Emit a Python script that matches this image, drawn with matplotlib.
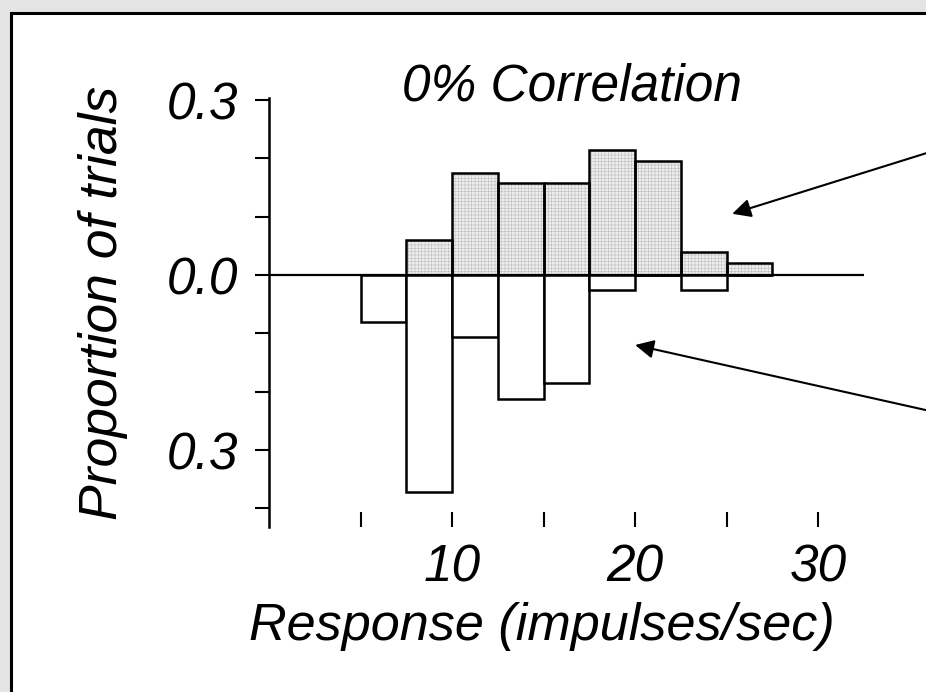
import matplotlib.pyplot as plt
from matplotlib.lines import Line2D

# histogram bins (impulses/sec), bin width 2.5
bin_left = [5, 7.5, 10, 12.5, 15, 17.5, 20, 22.5, 25]
bin_width = 2.5
# upper (shaded) and lower (open) histograms, proportion of trials
prop_upper = [0.0, 0.06, 0.175, 0.157, 0.157, 0.214, 0.195, 0.04, 0.02]
prop_lower = [0.081, 0.372, 0.106, 0.213, 0.185, 0.026, 0.0, 0.026, 0.0]

x_ticks = [5, 10, 15, 20, 25, 30]
x_ticklabels = ['', '10', '', '20', '', '30']
y_ticks = [-0.4, -0.3, -0.2, -0.1, 0.0, 0.1, 0.2, 0.3]
y_ticklabels = ['', '0.3', '', '', '0.0', '', '', '0.3']

FONT = 'Liberation Sans'
FS = 37

plt.rcParams['font.family'] = FONT
plt.rcParams['hatch.linewidth'] = 0.4

fig = plt.figure(figsize=(9.26, 6.92), dpi=100, facecolor='#e4e4e4')

# white frame, only its left and top borders are inside the picture
fx0, fy1 = 11 / 926, (692 - 13) / 692
fig.patches.append(plt.Rectangle((fx0, -0.05), 1.1, fy1 + 0.05, transform=fig.transFigure,
                                 facecolor='white', edgecolor='none', zorder=-5))
fig.add_artist(Line2D([fx0, fx0, 1.05], [-0.05, fy1, fy1], transform=fig.transFigure,
                      color='black', linewidth=2.2, solid_joinstyle='miter', zorder=-4))

ax = fig.add_axes([269 / 926, (692 - 527) / 692, 595 / 926, 428.7 / 692])
ax.set_zorder(5)
ax.patch.set_alpha(0)

# shaded upper histogram: stipple fill then black outline
ax.bar(bin_left, prop_upper, width=bin_width, align='edge',
       facecolor='#ededed', edgecolor='#bdbdbd', hatch='+++++', linewidth=0, zorder=2)
ax.bar(bin_left, prop_upper, width=bin_width, align='edge',
       facecolor='none', edgecolor='black', linewidth=1.8, zorder=3)
# open lower histogram
neg = [-v for v in prop_lower]
ax.bar(bin_left, neg, width=bin_width, align='edge',
       facecolor='white', edgecolor='black', linewidth=1.8, zorder=3)

ax.axhline(0, color='black', linewidth=1.6, zorder=4)

ax.set_xlim(0, 32.5)
ax.set_ylim(-0.432, 0.303)

for s in ['top', 'right', 'bottom']:
    ax.spines[s].set_visible(False)
ax.spines['left'].set_linewidth(1.8)

ax.set_xticks(x_ticks)
ax.set_xticklabels(x_ticklabels, fontsize=FS, style='italic')
ax.set_yticks(y_ticks)
ax.set_yticklabels(y_ticklabels, fontsize=FS, style='italic')
ax.tick_params(axis='x', direction='in', length=11, width=1.5, pad=12)
ax.tick_params(axis='y', direction='out', length=10, width=1.5, pad=12)

ax.set_xlabel('Response (impulses/sec)', fontsize=FS + 0.5, style='italic', va='top')
ax.xaxis.set_label_coords(0.459, -0.175)
ax.set_ylabel('Proportion of trials', fontsize=FS + 1.5, style='italic', va='center')
ax.yaxis.set_label_coords(-0.279, 0.522)

ax.text(0.51, 0.996, '0% Correlation', transform=ax.transAxes, ha='center',
        va='baseline', fontsize=FS, style='italic')

# arrows pointing at the two histograms from the right edge
arrow = dict(arrowstyle='-|>', color='black', lw=1.5, mutation_scale=28,
             shrinkA=0, shrinkB=0)
ax.annotate('', xy=(25.3, 0.105), xycoords='data',
            xytext=(930, 692 - 152), textcoords='figure pixels', arrowprops=arrow,
            annotation_clip=False)
ax.annotate('', xy=(20.0, -0.120), xycoords='data',
            xytext=(930, 692 - 411), textcoords='figure pixels', arrowprops=arrow,
            annotation_clip=False)

fig.savefig('out.png', dpi=100, facecolor=fig.get_facecolor())
